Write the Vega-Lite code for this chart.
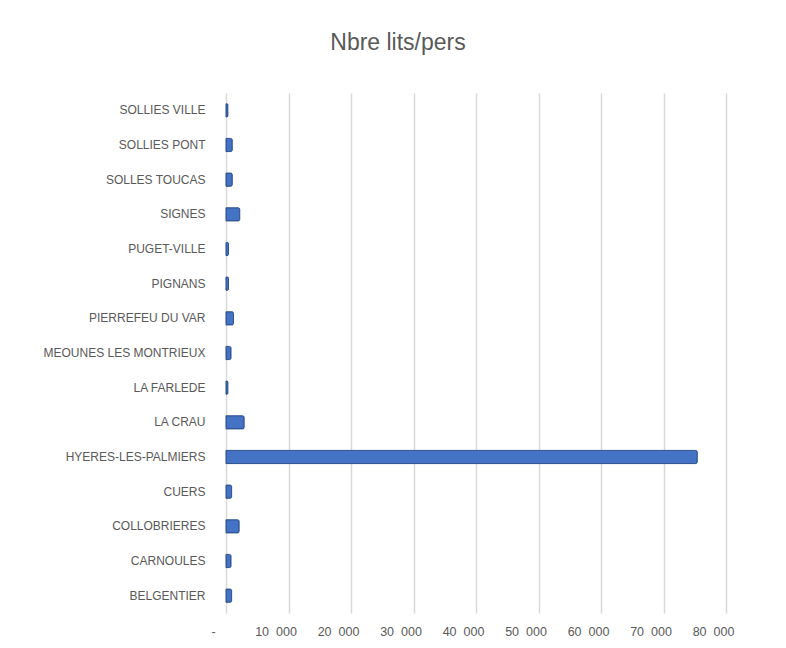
{
  "$schema": "https://vega.github.io/schema/vega-lite/v6.json",
  "autosize": "none",
  "width": 500,
  "height": 520,
  "padding": {"left": 226, "top": 93, "right": 60, "bottom": 35},
  "background": "white",
  "title": {
    "text": "Nbre lits/pers",
    "font": "Liberation Sans",
    "fontSize": 23,
    "fontWeight": "normal",
    "color": "#595959",
    "anchor": "middle",
    "dx": -78,
    "baseline": "alphabetic",
    "offset": 20
  },
  "config": {
    "view": {"stroke": null},
    "font": "Liberation Sans"
  },
  "data": {
    "values": [
      {"commune": "SOLLIES VILLE", "lits": 300},
      {"commune": "SOLLIES PONT", "lits": 1000},
      {"commune": "SOLLES TOUCAS", "lits": 1000},
      {"commune": "SIGNES", "lits": 2200},
      {"commune": "PUGET-VILLE", "lits": 400},
      {"commune": "PIGNANS", "lits": 400},
      {"commune": "PIERREFEU DU VAR", "lits": 1200},
      {"commune": "MEOUNES LES MONTRIEUX", "lits": 800},
      {"commune": "LA FARLEDE", "lits": 300},
      {"commune": "LA CRAU", "lits": 2900},
      {"commune": "HYERES-LES-PALMIERS", "lits": 75400},
      {"commune": "CUERS", "lits": 900},
      {"commune": "COLLOBRIERES", "lits": 2100},
      {"commune": "CARNOULES", "lits": 800},
      {"commune": "BELGENTIER", "lits": 900}
    ]
  },
  "mark": {"type": "bar", "color": "#4472C4", "stroke": "#2F528F", "strokeWidth": 1, "cornerRadiusEnd": 1.5},
  "encoding": {
    "y": {
      "field": "commune",
      "type": "nominal",
      "sort": null,
      "scale": {"paddingInner": 0.62, "paddingOuter": 0.31},
      "axis": {
        "title": null,
        "domain": false,
        "ticks": false,
        "grid": false,
        "labelPadding": 21,
        "labelFontSize": 12,
        "labelColor": "#595959",
        "labelFont": "Liberation Sans"
      }
    },
    "x": {
      "field": "lits",
      "type": "quantitative",
      "scale": {"domain": [0, 80000], "nice": false},
      "axis": {
        "title": null,
        "values": [0, 10000, 20000, 30000, 40000, 50000, 60000, 70000, 80000],
        "labelExpr": "datum.value == 0 ? '-' : replace(format(datum.value, ','), ',', '\u2007')",
        "labelOverlap": false,
        "labelFlush": false,
        "domain": false,
        "ticks": false,
        "grid": true,
        "gridColor": "#d9d9d9",
        "gridWidth": 1.5,
        "labelPadding": 12,
        "labelOffset": -13,
        "labelFontSize": 12.5,
        "labelColor": "#595959",
        "labelFont": "Liberation Sans"
      }
    }
  }
}
